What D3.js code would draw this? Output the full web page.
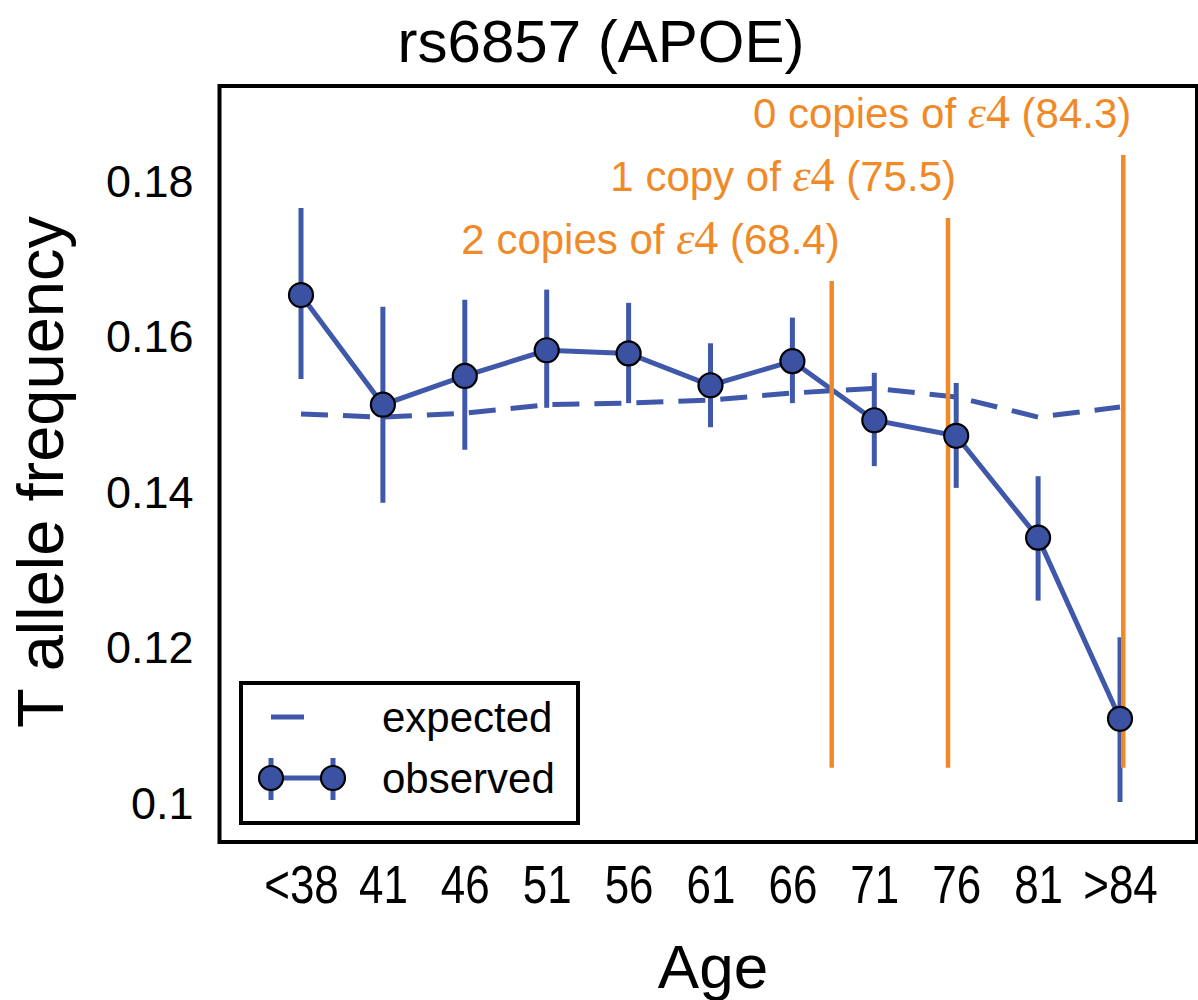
<!DOCTYPE html>
<html>
<head>
<meta charset="utf-8">
<script src="https://cdn.jsdelivr.net/npm/d3@7.9.0/dist/d3.min.js"></script>
<style>
  body { margin: 0; background: #fff; }
  svg { display: block; font-family: "Liberation Sans", Arial, sans-serif; }
</style>
</head>
<body>
<svg id="chart" width="1198" height="1000"></svg>
<script>
// age bins (x position in years) and their tick labels
const ageLabels = ['<38', '41', '46', '51', '56', '61', '66', '71', '76', '81', '>84'];
const agePos = [36, 41, 46, 51, 56, 61, 66, 71, 76, 81, 86];

// T allele frequency, observed with error bars, and expected
const observed = [0.1652, 0.1511, 0.1548, 0.1581, 0.1577, 0.1536, 0.1567, 0.1491, 0.1471, 0.1340, 0.1107];
const obsHigh  = [0.1764, 0.1637, 0.1646, 0.1659, 0.1642, 0.1590, 0.1623, 0.1552, 0.1539, 0.1419, 0.1212];
const obsLow   = [0.1544, 0.1385, 0.1453, 0.1507, 0.1513, 0.1482, 0.1513, 0.1432, 0.1404, 0.1259, 0.1000];
const expected = [0.1499, 0.1495, 0.1500, 0.1511, 0.1513, 0.1517, 0.1526, 0.1532, 0.1521, 0.1495, 0.1508];

const yTicks = [0.1, 0.12, 0.14, 0.16, 0.18];
const yTickLabels = ['0.1', '0.12', '0.14', '0.16', '0.18'];

// mean survival age by number of e4 copies (orange lines)
const copyText = ['2 copies of ', '1 copy of ', '0 copies of '];
const copyMean = ['(68.4)', '(75.5)', '(84.3)'];
const copyAge = [68.4, 75.5, 86.2];
const copyTop = [0.1670, 0.1751, 0.1832];
const copyBottom = 0.1044;

const blue = '#4058aa';
const orange = '#f08a28';

const svg = d3.select('#chart');

const x = d3.scaleLinear().domain([36, 86]).range([301, 1120]);
const y = d3.scaleLinear().domain([0.1, 0.18]).range([802, 180]);

// frame
svg.append('rect')
  .attr('x', 219.5).attr('y', 86)
  .attr('width', 977.5).attr('height', 756)
  .attr('fill', 'none').attr('stroke', '#000').attr('stroke-width', 4);

// axes (no tick marks, no spine from d3)
const xAxis = svg.append('g')
  .attr('transform', 'translate(0,842)')
  .call(d3.axisBottom(x).tickValues(agePos).tickSize(0).tickPadding(0)
    .tickFormat((d, i) => ageLabels[i]));
xAxis.select('.domain').remove();
// condensed look of the tick labels
xAxis.selectAll('text')
  .attr('y', 61).attr('dy', 0)
  .attr('transform', 'scale(0.83,1)')
  .attr('fill', '#000')
  .style('font-size', '53px');

const yAxis = svg.append('g')
  .attr('transform', 'translate(219.5,0)')
  .call(d3.axisLeft(y).tickValues(yTicks).tickSize(0).tickPadding(0)
    .tickFormat((d, i) => yTickLabels[i]));
yAxis.select('.domain').remove();
yAxis.selectAll('text')
  .attr('x', -26).attr('dy', '0.36em')
  .attr('fill', '#000')
  .style('font-size', '45px');

// axis titles
svg.append('text')
  .attr('x', 713).attr('y', 988)
  .attr('text-anchor', 'middle')
  .style('font-size', '62px')
  .text('Age');

svg.append('text')
  .attr('transform', 'translate(63,472) rotate(-90)')
  .attr('text-anchor', 'middle')
  .style('font-size', '65px')
  .text('T allele frequency');

svg.append('text')
  .attr('x', 601).attr('y', 62)
  .attr('text-anchor', 'middle')
  .style('font-size', '60px')
  .text('rs6857 (APOE)');

// expected dashed line
svg.append('path')
  .datum(agePos)
  .attr('fill', 'none')
  .attr('stroke', blue)
  .attr('stroke-width', 5)
  .attr('stroke-dasharray', '27,15')
  .attr('d', d3.line().x(d => x(d)).y((d, i) => y(expected[i])));

// observed line
svg.append('path')
  .datum(agePos)
  .attr('fill', 'none')
  .attr('stroke', blue)
  .attr('stroke-width', 5)
  .attr('d', d3.line().x(d => x(d)).y((d, i) => y(observed[i])));

// error bars
svg.append('g').selectAll('line')
  .data(agePos)
  .join('line')
  .attr('x1', d => x(d)).attr('x2', d => x(d))
  .attr('y1', (d, i) => y(obsLow[i]))
  .attr('y2', (d, i) => y(obsHigh[i]))
  .attr('stroke', blue)
  .attr('stroke-width', 5);

// orange lines + labels
const cuts = svg.append('g');
cuts.selectAll('line')
  .data(copyAge)
  .join('line')
  .attr('x1', d => x(d)).attr('x2', d => x(d))
  .attr('y1', (d, i) => y(copyTop[i]))
  .attr('y2', y(copyBottom))
  .attr('stroke', orange)
  .attr('stroke-width', 4.5);

const labels = cuts.selectAll('text')
  .data(copyAge)
  .join('text')
  .attr('x', d => x(d) + 8)
  .attr('y', (d, i) => y(copyTop[i]) - 27)
  .attr('text-anchor', 'end')
  .attr('fill', orange)
  .style('font-size', '42px');
labels.append('tspan').text((d, i) => copyText[i]);
labels.append('tspan')
  .style('font-family', '"Liberation Serif", "DejaVu Serif", serif')
  .style('font-style', 'italic')
  .style('font-size', '46px')
  .text('\u03b5');
labels.append('tspan')
  .style('font-family', '"Liberation Serif", "DejaVu Serif", serif')
  .style('font-size', '48px')
  .text('4');
labels.append('tspan').text((d, i) => ' ' + copyMean[i]);

// markers
svg.append('g').selectAll('circle')
  .data(agePos)
  .join('circle')
  .attr('cx', d => x(d))
  .attr('cy', (d, i) => y(observed[i]))
  .attr('r', 12)
  .attr('fill', '#3b52a3')
  .attr('stroke', '#000')
  .attr('stroke-width', 2.2);

// legend
const lg = svg.append('g');
lg.append('rect')
  .attr('x', 241).attr('y', 683)
  .attr('width', 337).attr('height', 140)
  .attr('fill', '#fff').attr('stroke', '#000').attr('stroke-width', 4);
lg.append('line')
  .attr('x1', 271).attr('x2', 304).attr('y1', 717).attr('y2', 717)
  .attr('stroke', blue).attr('stroke-width', 5);
lg.append('line')
  .attr('x1', 271).attr('x2', 333).attr('y1', 778).attr('y2', 778)
  .attr('stroke', blue).attr('stroke-width', 5);
[271, 333].forEach(cx => {
  lg.append('line')
    .attr('x1', cx).attr('x2', cx).attr('y1', 758).attr('y2', 800)
    .attr('stroke', blue).attr('stroke-width', 5);
  lg.append('circle')
    .attr('cx', cx).attr('cy', 778).attr('r', 12)
    .attr('fill', '#3b52a3').attr('stroke', '#000').attr('stroke-width', 2.2);
});
lg.append('text')
  .attr('x', 382).attr('y', 732)
  .style('font-size', '42px')
  .text('expected');
lg.append('text')
  .attr('x', 382).attr('y', 793)
  .style('font-size', '42px')
  .text('observed');
</script>
</body>
</html>
